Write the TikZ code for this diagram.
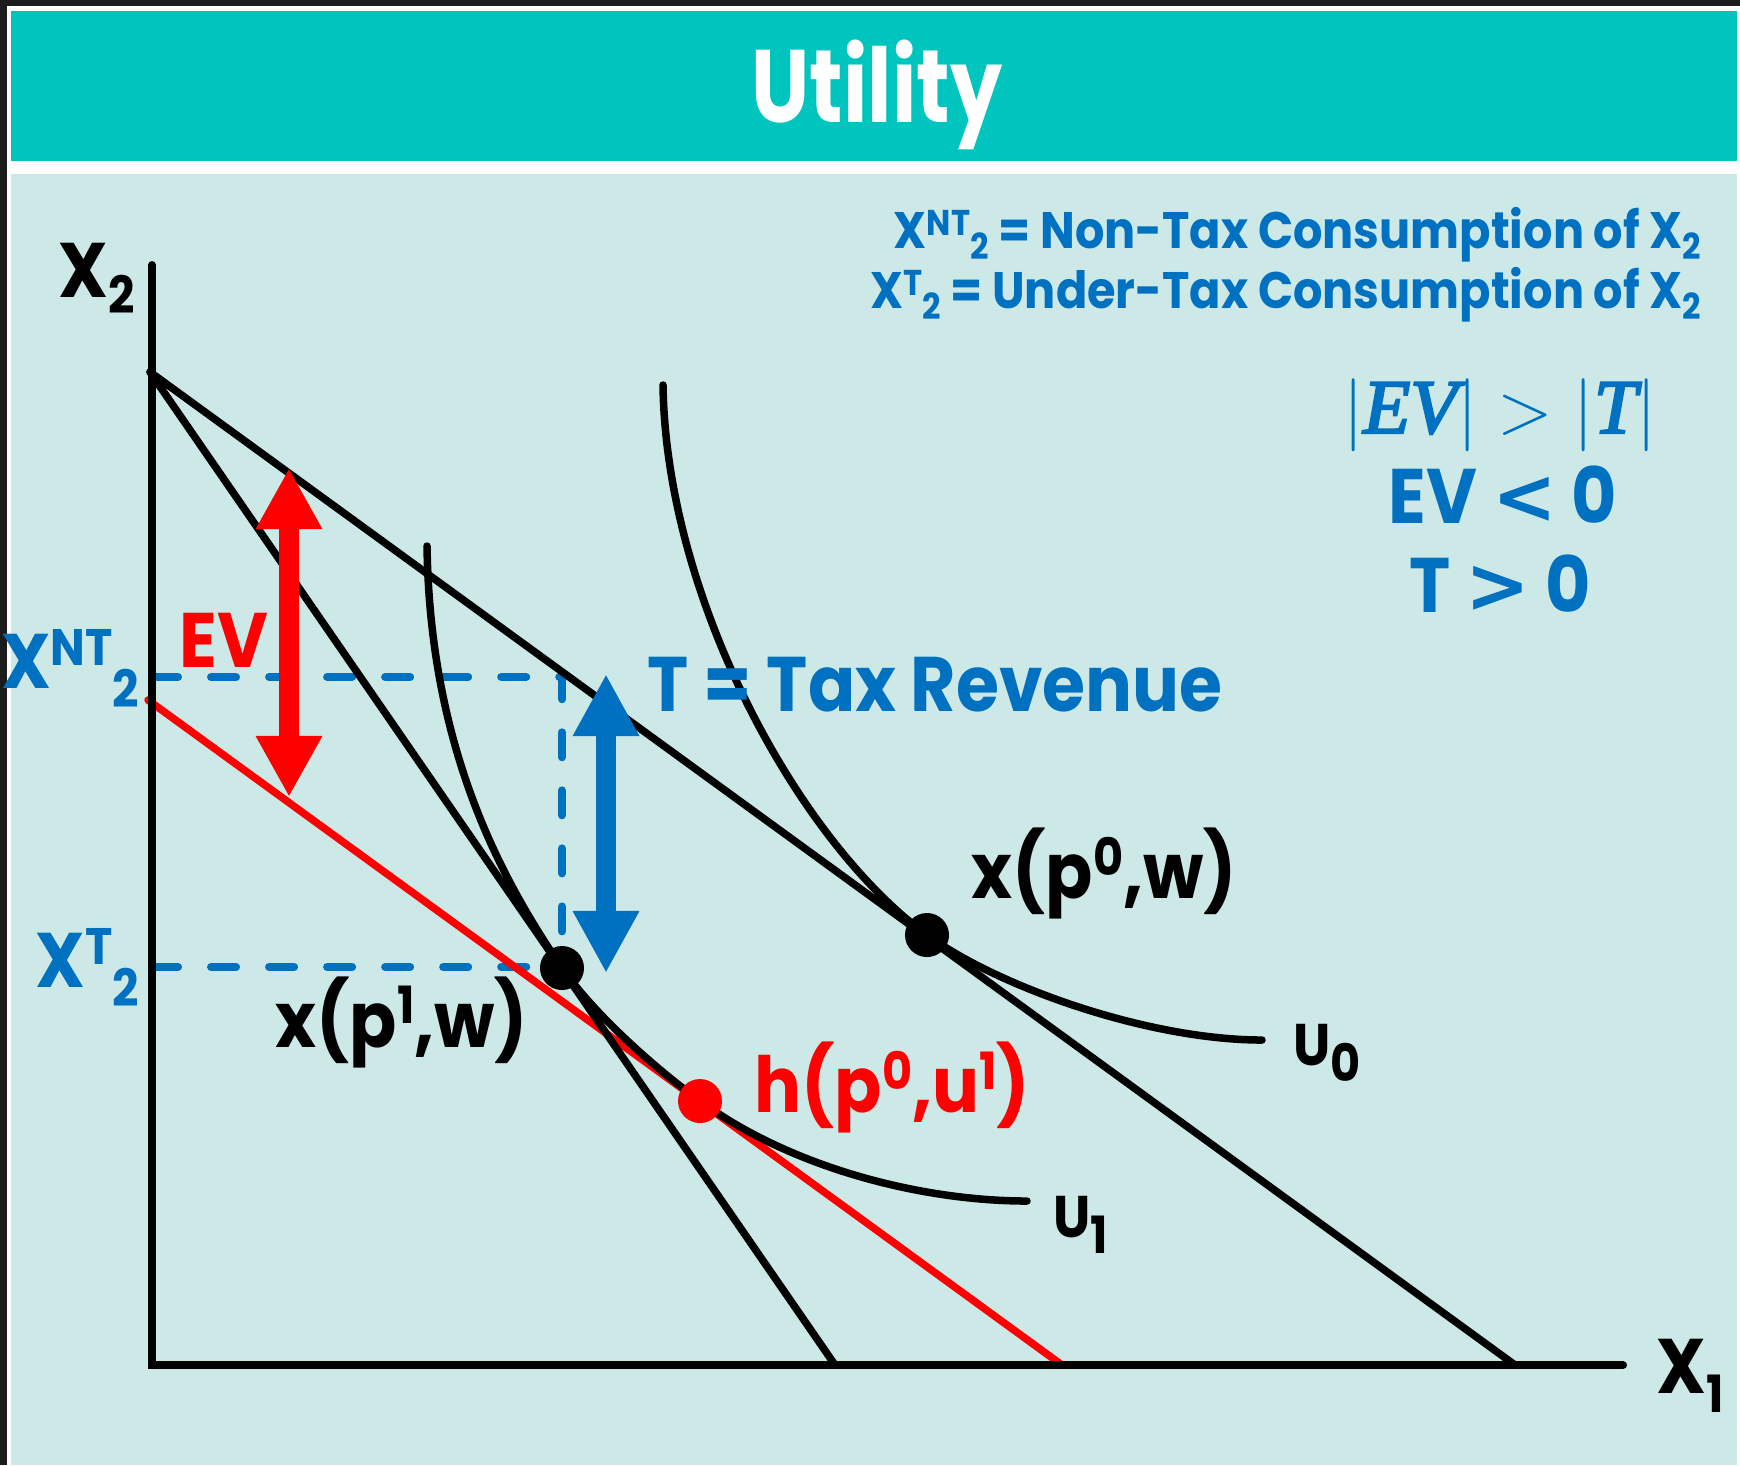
\documentclass[tikz,border=0pt]{standalone}
\usepackage{fontspec}
\setmainfont{Poppins}[FakeStretch=0.9]
\newfontfamily\symfnt{DejaVu Sans}
\newfontfamily\relfnt{Liberation Serif}[FakeBold=3]
\usepackage{amsmath}
\usetikzlibrary{arrows.meta}

\definecolor{framegray}{RGB}{28,28,28}
\definecolor{hdrteal}{RGB}{0,197,190}
\definecolor{panelbg}{RGB}{204,233,231}
\definecolor{txtblue}{RGB}{0,112,192}
\definecolor{evred}{RGB}{255,0,0}

\newcommand{\hi}[2]{\raisebox{#1}{\fontsize{14.6}{16}\selectfont #2}}
\newcommand{\lo}[2]{\raisebox{#1}{\fontsize{10.2}{12}\selectfont #2}}
\newcommand{\bit}[1]{{\relfnt\itshape #1}}

\begin{document}
\begin{tikzpicture}[x=0.01cm, y=-0.01cm,
	crv/.style={line width=0.075cm, line cap=round},
	dashline/.style={line width=0.08cm, line cap=round, txtblue, dash pattern=on 0.25cm off 0.33cm},
	evarrow/.style={line width=0.2cm, evred, {Triangle[width=0.62cm,length=0.61cm]}-{Triangle[width=0.62cm,length=0.61cm]}},
	tarrow/.style={line width=0.2cm, txtblue, {Triangle[width=0.62cm,length=0.62cm]}-{Triangle[width=0.62cm,length=0.62cm]}},
	big/.style={font=\bfseries\fontsize{22}{26}\selectfont, inner sep=0pt},
	small/.style={font=\bfseries\fontsize{14.6}{17}\selectfont, inner sep=0pt, txtblue},
	ulbl/.style={font=\bfseries\fontsize{16.7}{19}\selectfont, inner sep=0pt}]
		%%%%% START %%%%%
		\useasboundingbox (0, 0) rectangle (1740, 1465);
		\fill[white] (0, 0) rectangle (1740, 1465);
		\fill[framegray] (0, 0) rectangle (1740, 6);
		\fill[framegray] (0, 0) rectangle (7, 1465);
		\fill[hdrteal] (11, 11) rectangle (1737, 161);
		\fill[panelbg] (11, 174) rectangle (1737, 1465);
		\node[font=\bfseries\fontsize{29.3}{34}\selectfont, inner sep=0pt, white, anchor=base] (title) at (877, 122) {\scalebox{0.89}[1]{Utility}};
		
		\coordinate (top) at (150, 372);
		\coordinate (xpz) at (927, 935);
		\coordinate (xpo) at (562, 968);
		\coordinate (hpu) at (700, 1101);
		
		% dashed levels
		\draw[dashline] (153, 677) -- (562, 677) -- (562, 967);
		\draw[dashline] (153, 967) -- (545, 967);
		
		% budget lines
		\draw[crv, evred] (148, 700) -- (1062, 1365);
		\draw[crv] (top) -- (1515, 1365);
		\draw[crv] (top) -- (835, 1365);
		
		% indifference curves
		\draw[crv] (663, 385) .. controls (666, 600) and (800, 843) .. (xpz) .. controls (1000, 988) and (1150, 1040) .. (1262, 1040);
		\draw[crv] (427, 546) .. controls (430, 750) and (502, 880) .. (xpo) .. controls (597, 1018) and (660, 1072) .. (hpu) .. controls (790, 1167) and (920, 1201) .. (1027, 1201);
		
		% axes
		\draw[line width=0.08cm, line cap=round] (152, 265) -- (152, 1365) -- (1623, 1365);
		
		\draw[evarrow] (289, 468) -- (289, 797);
		\draw[tarrow] (606, 674) -- (606, 973);
		
		\fill (xpo) circle (0.22cm);
		\fill (xpz) circle (0.22cm);
		\fill[evred] (hpu) circle (0.22cm);
		
		% labels
		\node[big, anchor=base west] (xtwo) at (58, 297) {X\hi{-4.8pt}{2}};
		\node[big, anchor=base west] (xone) at (1656, 1393) {X\hi{-5.4pt}{1}};
		\node[big, txtblue, anchor=base east] (xnt) at (140, 688) {X\hi{6.3pt}{NT}\hi{-5.4pt}{2}};
		\node[big, txtblue, anchor=base east] (xt) at (140, 987) {X\hi{6.3pt}{T}\hi{-5.4pt}{2}};
		\node[big, evred, anchor=base west] (evlbl) at (179, 667) {EV};
		\node[big, txtblue, anchor=base west] (tlbl) at (647, 711) {T = Tax Revenue};
		\node[big, anchor=base west] (xpzero) at (971, 898) {x(p\hi{6.5pt}{0},w)};
		\node[big, anchor=base west] (xpone) at (275, 1047) {x(p\hi{6.8pt}{1},w)};
		\node[big, evred, anchor=base west] (hlbl) at (754, 1112) {h(p\hi{6.5pt}{0},u\hi{6.5pt}{1})};
		\node[ulbl, anchor=base west] (uzero) at (1293, 1065) {U\hi{-4.8pt}{0}};
		\node[ulbl, anchor=base west] (uone) at (1053, 1237) {U\hi{-4.8pt}{1}};
		
		\node[small, anchor=base east] (defnt) at (1702, 248) {X\lo{3.7pt}{NT}\lo{-3.4pt}{2} = Non-Tax Consumption of X\lo{-3.4pt}{2}};
		\node[small, anchor=base east] (deft) at (1702, 308) {X\lo{3.7pt}{T}\lo{-3.4pt}{2} = Under-Tax Consumption of X\lo{-3.4pt}{2}};
		\node[inner sep=0pt, txtblue, font=\fontsize{21.9}{25}\selectfont, anchor=base] (absrel) at (1500, 433) {$\lvert$\bit{EV}$\rvert > \lvert$\bit{T}$\rvert$};
		\node[big, txtblue, anchor=base] (evneg) at (1503, 523) {EV {\symfnt <} 0};
		\node[big, txtblue, anchor=base] (tpos) at (1500, 612) {T {\symfnt >} 0};
		%%%%% END %%%%%
\end{tikzpicture}
\end{document}
